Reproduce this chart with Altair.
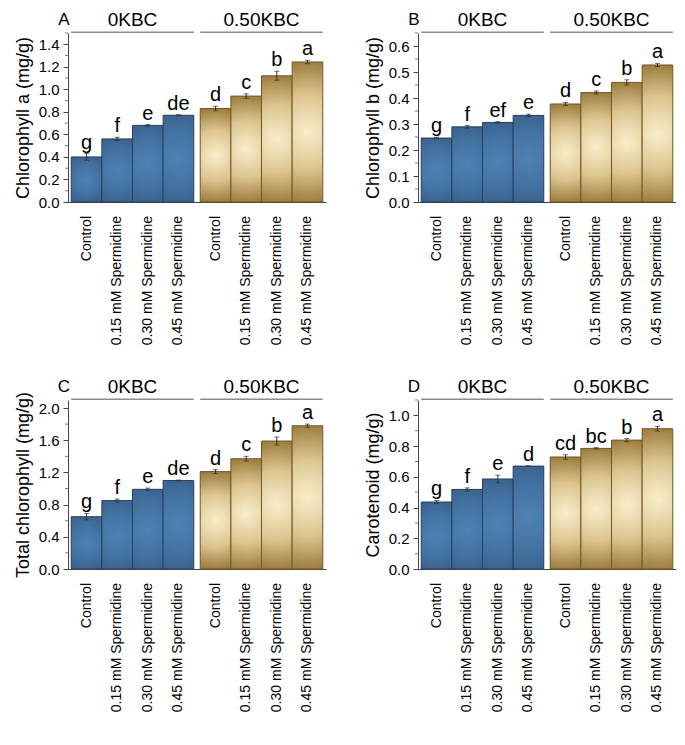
import altair as alt
import pandas as pd
import numpy as np

groups = ["0KBC"] * 4 + ["0.50KBC"] * 4
treatments = ["Control", "0.15 mM Spermidine", "0.30 mM Spermidine", "0.45 mM Spermidine"] * 2
group_order = ["0KBC", "0.50KBC"]
treat_order = ["Control", "0.15 mM Spermidine", "0.30 mM Spermidine", "0.45 mM Spermidine"]

chla_vals = [0.40, 0.56, 0.68, 0.77, 0.83, 0.94, 1.12, 1.243]
chla_err = [0.03, 0.015, 0.007, 0.005, 0.02, 0.02, 0.04, 0.015]
chla_let = ["g", "f", "e", "de", "d", "c", "b", "a"]

chlb_vals = [0.246, 0.289, 0.306, 0.333, 0.377, 0.421, 0.46, 0.527]
chlb_err = [0.003, 0.005, 0.003, 0.005, 0.006, 0.006, 0.01, 0.006]
chlb_let = ["g", "f", "ef", "e", "d", "c", "b", "a"]

tot_vals = [0.65, 0.85, 0.99, 1.10, 1.21, 1.37, 1.59, 1.78]
tot_err = [0.04, 0.02, 0.015, 0.005, 0.025, 0.03, 0.05, 0.02]
tot_let = ["g", "f", "e", "de", "d", "c", "b", "a"]

car_vals = [0.436, 0.518, 0.586, 0.67, 0.729, 0.785, 0.839, 0.913]
car_err = [0.01, 0.01, 0.025, 0.0, 0.015, 0.005, 0.01, 0.015]
car_let = ["g", "f", "e", "d", "cd", "bc", "b", "a"]

FONT = "Liberation Sans"
W, H = 258, 169

blue_grad = alt.Gradient(
    gradient="radial", x1=0.5, y1=0.5, r1=0, x2=0.5, y2=0.5, r2=0.6,
    stops=[alt.GradientStop(color="#4e82b3", offset=0),
           alt.GradientStop(color="#4373a3", offset=0.5),
           alt.GradientStop(color="#395c85", offset=1)])
gold_grad = alt.Gradient(
    gradient="radial", x1=0.5, y1=0.5, r1=0, x2=0.5, y2=0.5, r2=0.6,
    stops=[alt.GradientStop(color="#f8eecb", offset=0),
           alt.GradientStop(color="#dcc48e", offset=0.45),
           alt.GradientStop(color="#9c7b3c", offset=0.85),
           alt.GradientStop(color="#8f6f33", offset=1)])


def panel(letter, vals, errs, lets, title, dmax, major, minor):
    df = pd.DataFrame({"group": groups, "treat": treatments, "value": vals,
                       "err": errs, "lab": lets})
    hdr = pd.DataFrame({"group": group_order})
    xs = alt.X("group:N", sort=group_order,
               scale=alt.Scale(domain=group_order, paddingInner=0.05, paddingOuter=0.025),
               axis=alt.Axis(title=None, labels=False, ticks=False, domain=True,
                             domainColor="#444444", domainWidth=1))
    xo = alt.XOffset("treat:N", sort=treat_order,
                     scale=alt.Scale(domain=treat_order, paddingInner=0, paddingOuter=0))
    major_vals = [round(v, 4) for v in np.arange(0, dmax + 1e-9, major)]
    minor_vals = [round(v, 4) for v in np.arange(0, dmax + 1e-9, minor)
                  if abs(v / major - round(v / major)) > 0.01]
    yaxis = alt.Axis(title=title, values=major_vals, format=".1f",
                     tickSize=5, labelOverlap=False, labelBound=False,
                     grid=False, domainColor="#444444", tickColor="#444444",
                     labelFont=FONT, labelFontSize=15, labelColor="black",
                     titleFont=FONT, titleFontSize=18, titleFontWeight="normal",
                     titleColor="black", titlePadding=6, labelPadding=4)
    yscale = alt.Scale(domain=[0, dmax], nice=False, zero=True)
    ys = alt.Y("value:Q", scale=yscale, axis=yaxis)
    ylo = alt.Y("lo:Q", scale=yscale, axis=yaxis)
    yhi = alt.Y("hi:Q", scale=yscale, axis=yaxis)
    base = alt.Chart(df)
    bars_b = base.transform_filter(alt.datum.group == "0KBC").mark_bar(
        fill=blue_grad, stroke="#2a3f59", strokeWidth=1).encode(x=xs, xOffset=xo, y=ys)
    bars_g = base.transform_filter(alt.datum.group == "0.50KBC").mark_bar(
        fill=gold_grad, stroke="#6f5826", strokeWidth=1).encode(x=xs, xOffset=xo, y=ys)
    eb = base.transform_calculate(lo="datum.value - datum.err", hi="datum.value + datum.err")
    err_rule = eb.mark_rule(color="#333333", strokeWidth=1).encode(
        x=xs, xOffset=xo, y=ylo, y2="hi:Q")
    cap_lo = eb.mark_tick(color="#333333", thickness=1, size=5, orient="horizontal").encode(
        x=xs, xOffset=xo, y=ylo)
    cap_hi = eb.mark_tick(color="#333333", thickness=1, size=5, orient="horizontal").encode(
        x=xs, xOffset=xo, y=yhi)
    txt = eb.mark_text(font=FONT, fontSize=20, baseline="bottom", dy=-1, color="black").encode(
        x=xs, xOffset=xo, y=yhi, text="lab:N")
    xlab = base.mark_text(font=FONT, fontSize=14, angle=270, align="right", baseline="middle",
                          color="black").encode(
        x=xs, xOffset=xo, y=alt.value(H + 14), text="treat:N")
    minor_ticks = alt.Chart(pd.DataFrame({"value": minor_vals})).mark_tick(
        color="#444444", thickness=1, size=3, orient="horizontal").encode(
        y=ys, x=alt.value(-1.5))
    hline = alt.Chart(hdr).mark_bar(color="#8c8c8c").encode(
        x=xs, y=alt.value(-1.5), y2=alt.value(0))
    htxt = alt.Chart(hdr).mark_text(font=FONT, fontSize=19, baseline="alphabetic",
                                    color="black").encode(
        x=xs, y=alt.value(-7), text="group:N")
    ltxt = alt.Chart(pd.DataFrame({"t": [letter]})).mark_text(
        font=FONT, fontSize=17, baseline="alphabetic", align="center", color="black").encode(
        x=alt.value(-4), y=alt.value(-8), text="t:N")
    return alt.layer(bars_b, bars_g, err_rule, cap_lo, cap_hi, txt, xlab, minor_ticks,
                     hline, htxt, ltxt).properties(width=W, height=H)


pA = panel("A", chla_vals, chla_err, chla_let, "Chlorophyll a (mg/g)", 1.5, 0.2, 0.1)
pB = panel("B", chlb_vals, chlb_err, chlb_let, "Chlorophyll b (mg/g)", 0.65, 0.1, 0.05)
pC = panel("C", tot_vals, tot_err, tot_let, "Total chlorophyll (mg/g)", 2.1, 0.4, 0.2)
pD = panel("D", car_vals, car_err, car_let, "Carotenoid (mg/g)", 1.1, 0.2, 0.1)

row1 = alt.hconcat(pA, pB, spacing=38)
row2 = alt.hconcat(pC, pD, spacing=38)
chart = alt.vconcat(row1, row2, spacing=32).configure_view(stroke=None).configure_axisY(
    labelOverlap=False).properties(
    padding={"left": 6, "top": 3, "right": 0, "bottom": 0})

chart.save("out.html", embed_options={"renderer": "svg", "actions": False})
